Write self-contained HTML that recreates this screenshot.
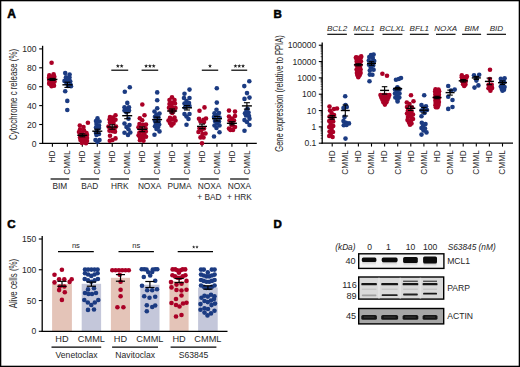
<!DOCTYPE html>
<html><head><meta charset="utf-8"><style>
html,body{margin:0;padding:0;background:#fff;}
body{width:520px;height:367px;overflow:hidden;}
svg{display:block;}
text{font-family:"Liberation Sans", sans-serif;fill:#262626;}
</style></head><body>
<svg width="520" height="367" viewBox="0 0 520 367">
<rect x="0" y="0" width="520" height="367" fill="#fff"/>
<text x="7.20" y="17.60" font-size="12.00" text-anchor="start" font-weight="bold" font-style="normal" style="fill:#000;stroke:#000;stroke-width:0.55">A</text>
<line x1="42.60" y1="45.80" x2="42.60" y2="144.00" stroke="#000" stroke-width="1.30"/>
<line x1="42.00" y1="143.40" x2="256.80" y2="143.40" stroke="#000" stroke-width="1.30"/>
<line x1="39.20" y1="143.40" x2="42.60" y2="143.40" stroke="#000" stroke-width="1.10"/>
<text x="36.60" y="146.50" font-size="8.60" text-anchor="end" font-weight="normal" font-style="normal" >0</text>
<line x1="39.20" y1="124.50" x2="42.60" y2="124.50" stroke="#000" stroke-width="1.10"/>
<text x="36.60" y="127.60" font-size="8.60" text-anchor="end" font-weight="normal" font-style="normal" >20</text>
<line x1="39.20" y1="105.60" x2="42.60" y2="105.60" stroke="#000" stroke-width="1.10"/>
<text x="36.60" y="108.70" font-size="8.60" text-anchor="end" font-weight="normal" font-style="normal" >40</text>
<line x1="39.20" y1="86.70" x2="42.60" y2="86.70" stroke="#000" stroke-width="1.10"/>
<text x="36.60" y="89.80" font-size="8.60" text-anchor="end" font-weight="normal" font-style="normal" >60</text>
<line x1="39.20" y1="67.80" x2="42.60" y2="67.80" stroke="#000" stroke-width="1.10"/>
<text x="36.60" y="70.90" font-size="8.60" text-anchor="end" font-weight="normal" font-style="normal" >80</text>
<line x1="39.20" y1="48.90" x2="42.60" y2="48.90" stroke="#000" stroke-width="1.10"/>
<text x="36.60" y="52.00" font-size="8.60" text-anchor="end" font-weight="normal" font-style="normal" >100</text>
<text x="17.30" y="94.50" font-size="10.10" text-anchor="middle" font-weight="normal" font-style="normal" transform="rotate(-90 17.30 94.50)" textLength="91.00" lengthAdjust="spacingAndGlyphs" >Cytochrome c release (%)</text>
<line x1="52.40" y1="143.40" x2="52.40" y2="146.80" stroke="#000" stroke-width="1.10"/>
<text x="55.30" y="150.40" font-size="8.30" text-anchor="end" font-weight="normal" font-style="normal" transform="rotate(-90 55.30 150.40)" >HD</text>
<line x1="67.36" y1="143.40" x2="67.36" y2="146.80" stroke="#000" stroke-width="1.10"/>
<text x="70.26" y="150.40" font-size="8.30" text-anchor="end" font-weight="normal" font-style="normal" transform="rotate(-90 70.26 150.40)" >CMML</text>
<line x1="82.32" y1="143.40" x2="82.32" y2="146.80" stroke="#000" stroke-width="1.10"/>
<text x="85.22" y="150.40" font-size="8.30" text-anchor="end" font-weight="normal" font-style="normal" transform="rotate(-90 85.22 150.40)" >HD</text>
<line x1="97.28" y1="143.40" x2="97.28" y2="146.80" stroke="#000" stroke-width="1.10"/>
<text x="100.18" y="150.40" font-size="8.30" text-anchor="end" font-weight="normal" font-style="normal" transform="rotate(-90 100.18 150.40)" >CMML</text>
<line x1="112.24" y1="143.40" x2="112.24" y2="146.80" stroke="#000" stroke-width="1.10"/>
<text x="115.14" y="150.40" font-size="8.30" text-anchor="end" font-weight="normal" font-style="normal" transform="rotate(-90 115.14 150.40)" >HD</text>
<line x1="127.20" y1="143.40" x2="127.20" y2="146.80" stroke="#000" stroke-width="1.10"/>
<text x="130.10" y="150.40" font-size="8.30" text-anchor="end" font-weight="normal" font-style="normal" transform="rotate(-90 130.10 150.40)" >CMML</text>
<line x1="142.16" y1="143.40" x2="142.16" y2="146.80" stroke="#000" stroke-width="1.10"/>
<text x="145.06" y="150.40" font-size="8.30" text-anchor="end" font-weight="normal" font-style="normal" transform="rotate(-90 145.06 150.40)" >HD</text>
<line x1="157.12" y1="143.40" x2="157.12" y2="146.80" stroke="#000" stroke-width="1.10"/>
<text x="160.02" y="150.40" font-size="8.30" text-anchor="end" font-weight="normal" font-style="normal" transform="rotate(-90 160.02 150.40)" >CMML</text>
<line x1="172.08" y1="143.40" x2="172.08" y2="146.80" stroke="#000" stroke-width="1.10"/>
<text x="174.98" y="150.40" font-size="8.30" text-anchor="end" font-weight="normal" font-style="normal" transform="rotate(-90 174.98 150.40)" >HD</text>
<line x1="187.04" y1="143.40" x2="187.04" y2="146.80" stroke="#000" stroke-width="1.10"/>
<text x="189.94" y="150.40" font-size="8.30" text-anchor="end" font-weight="normal" font-style="normal" transform="rotate(-90 189.94 150.40)" >CMML</text>
<line x1="202.00" y1="143.40" x2="202.00" y2="146.80" stroke="#000" stroke-width="1.10"/>
<text x="204.90" y="150.40" font-size="8.30" text-anchor="end" font-weight="normal" font-style="normal" transform="rotate(-90 204.90 150.40)" >HD</text>
<line x1="216.96" y1="143.40" x2="216.96" y2="146.80" stroke="#000" stroke-width="1.10"/>
<text x="219.86" y="150.40" font-size="8.30" text-anchor="end" font-weight="normal" font-style="normal" transform="rotate(-90 219.86 150.40)" >CMML</text>
<line x1="231.92" y1="143.40" x2="231.92" y2="146.80" stroke="#000" stroke-width="1.10"/>
<text x="234.82" y="150.40" font-size="8.30" text-anchor="end" font-weight="normal" font-style="normal" transform="rotate(-90 234.82 150.40)" >HD</text>
<line x1="246.88" y1="143.40" x2="246.88" y2="146.80" stroke="#000" stroke-width="1.10"/>
<text x="249.78" y="150.40" font-size="8.30" text-anchor="end" font-weight="normal" font-style="normal" transform="rotate(-90 249.78 150.40)" >CMML</text>
<line x1="50.58" y1="179.00" x2="69.18" y2="179.00" stroke="#000" stroke-width="1.20"/>
<text x="59.88" y="189.20" font-size="8.30" text-anchor="middle" font-weight="normal" font-style="normal" >BIM</text>
<line x1="80.50" y1="179.00" x2="99.10" y2="179.00" stroke="#000" stroke-width="1.20"/>
<text x="89.80" y="189.20" font-size="8.30" text-anchor="middle" font-weight="normal" font-style="normal" >BAD</text>
<line x1="110.42" y1="179.00" x2="129.02" y2="179.00" stroke="#000" stroke-width="1.20"/>
<text x="119.72" y="189.20" font-size="8.30" text-anchor="middle" font-weight="normal" font-style="normal" >HRK</text>
<line x1="140.34" y1="179.00" x2="158.94" y2="179.00" stroke="#000" stroke-width="1.20"/>
<text x="149.64" y="189.20" font-size="8.30" text-anchor="middle" font-weight="normal" font-style="normal" >NOXA</text>
<line x1="170.26" y1="179.00" x2="188.86" y2="179.00" stroke="#000" stroke-width="1.20"/>
<text x="179.56" y="189.20" font-size="8.30" text-anchor="middle" font-weight="normal" font-style="normal" >PUMA</text>
<line x1="200.18" y1="179.00" x2="218.78" y2="179.00" stroke="#000" stroke-width="1.20"/>
<text x="209.48" y="189.20" font-size="8.30" text-anchor="middle" font-weight="normal" font-style="normal" >NOXA</text>
<line x1="230.10" y1="179.00" x2="248.70" y2="179.00" stroke="#000" stroke-width="1.20"/>
<text x="239.40" y="189.20" font-size="8.30" text-anchor="middle" font-weight="normal" font-style="normal" >NOXA</text>
<text x="209.48" y="199.50" font-size="8.30" text-anchor="middle" font-weight="normal" font-style="normal" >+ BAD</text>
<text x="239.40" y="199.50" font-size="8.30" text-anchor="middle" font-weight="normal" font-style="normal" >+ HRK</text>
<line x1="111.30" y1="70.20" x2="128.20" y2="70.20" stroke="#000" stroke-width="1.20"/>
<polygon points="117.85,63.90 118.38,65.27 119.85,65.35 118.71,66.28 119.08,67.70 117.85,66.90 116.62,67.70 116.99,66.28 115.85,65.35 117.32,65.27" fill="#222"/>
<polygon points="121.65,63.90 122.18,65.27 123.65,65.35 122.51,66.28 122.88,67.70 121.65,66.90 120.42,67.70 120.79,66.28 119.65,65.35 121.12,65.27" fill="#222"/>
<line x1="141.60" y1="70.20" x2="158.20" y2="70.20" stroke="#000" stroke-width="1.20"/>
<polygon points="146.10,63.90 146.63,65.27 148.10,65.35 146.96,66.28 147.33,67.70 146.10,66.90 144.87,67.70 145.24,66.28 144.10,65.35 145.57,65.27" fill="#222"/>
<polygon points="149.90,63.90 150.43,65.27 151.90,65.35 150.76,66.28 151.13,67.70 149.90,66.90 148.67,67.70 149.04,66.28 147.90,65.35 149.37,65.27" fill="#222"/>
<polygon points="153.70,63.90 154.23,65.27 155.70,65.35 154.56,66.28 154.93,67.70 153.70,66.90 152.47,67.70 152.84,66.28 151.70,65.35 153.17,65.27" fill="#222"/>
<line x1="201.80" y1="70.20" x2="218.20" y2="70.20" stroke="#000" stroke-width="1.20"/>
<polygon points="210.00,63.90 210.53,65.27 212.00,65.35 210.86,66.28 211.23,67.70 210.00,66.90 208.77,67.70 209.14,66.28 208.00,65.35 209.47,65.27" fill="#222"/>
<line x1="231.30" y1="70.20" x2="247.20" y2="70.20" stroke="#000" stroke-width="1.20"/>
<polygon points="235.45,63.90 235.98,65.27 237.45,65.35 236.31,66.28 236.68,67.70 235.45,66.90 234.22,67.70 234.59,66.28 233.45,65.35 234.92,65.27" fill="#222"/>
<polygon points="239.25,63.90 239.78,65.27 241.25,65.35 240.11,66.28 240.48,67.70 239.25,66.90 238.02,67.70 238.39,66.28 237.25,65.35 238.72,65.27" fill="#222"/>
<polygon points="243.05,63.90 243.58,65.27 245.05,65.35 243.91,66.28 244.28,67.70 243.05,66.90 241.82,67.70 242.19,66.28 241.05,65.35 242.52,65.27" fill="#222"/>
<g fill="#aa0026"><circle cx="51.6" cy="62.8" r="2.30"/><circle cx="49.3" cy="75.2" r="2.30"/><circle cx="53.6" cy="74.2" r="2.30"/><circle cx="54.3" cy="76.8" r="2.30"/><circle cx="49.0" cy="77.8" r="2.30"/><circle cx="51.4" cy="77.0" r="2.30"/><circle cx="54.0" cy="79.4" r="2.30"/><circle cx="49.2" cy="80.0" r="2.30"/><circle cx="51.5" cy="80.5" r="2.30"/><circle cx="49.5" cy="82.5" r="2.30"/><circle cx="53.5" cy="82.0" r="2.30"/><circle cx="54.5" cy="81.5" r="2.30"/><circle cx="50.5" cy="84.3" r="2.30"/><circle cx="53.3" cy="84.6" r="2.30"/><circle cx="49.2" cy="83.8" r="2.30"/><circle cx="51.6" cy="86.2" r="2.30"/><circle cx="54.0" cy="85.8" r="2.30"/></g>
<g fill="#1b3b82"><circle cx="65.2" cy="73.1" r="2.30"/><circle cx="69.6" cy="74.5" r="2.30"/><circle cx="66.0" cy="77.2" r="2.30"/><circle cx="69.5" cy="77.5" r="2.30"/><circle cx="66.0" cy="80.0" r="2.30"/><circle cx="69.0" cy="80.5" r="2.30"/><circle cx="64.5" cy="80.9" r="2.30"/><circle cx="70.2" cy="81.2" r="2.30"/><circle cx="66.5" cy="83.0" r="2.30"/><circle cx="70.5" cy="84.5" r="2.30"/><circle cx="68.0" cy="86.0" r="2.30"/><circle cx="71.0" cy="86.2" r="2.30"/><circle cx="65.2" cy="91.2" r="2.30"/><circle cx="67.3" cy="100.9" r="2.30"/><circle cx="67.3" cy="110.0" r="2.30"/></g>
<g fill="#aa0026"><circle cx="87.9" cy="122.8" r="2.30"/><circle cx="79.8" cy="125.6" r="2.30"/><circle cx="83.5" cy="127.0" r="2.30"/><circle cx="80.0" cy="129.5" r="2.30"/><circle cx="84.0" cy="130.5" r="2.30"/><circle cx="79.0" cy="132.0" r="2.30"/><circle cx="82.0" cy="133.0" r="2.30"/><circle cx="86.5" cy="133.0" r="2.30"/><circle cx="80.0" cy="135.0" r="2.30"/><circle cx="83.0" cy="135.5" r="2.30"/><circle cx="87.0" cy="135.0" r="2.30"/><circle cx="80.0" cy="137.5" r="2.30"/><circle cx="84.0" cy="138.0" r="2.30"/><circle cx="87.0" cy="138.0" r="2.30"/><circle cx="80.5" cy="140.0" r="2.30"/><circle cx="84.0" cy="140.5" r="2.30"/><circle cx="87.0" cy="141.0" r="2.30"/><circle cx="82.0" cy="143.0" r="2.30"/><circle cx="86.0" cy="143.2" r="2.30"/></g>
<g fill="#1b3b82"><circle cx="97.5" cy="118.4" r="2.30"/><circle cx="96.0" cy="121.0" r="2.30"/><circle cx="99.5" cy="121.5" r="2.30"/><circle cx="96.5" cy="124.0" r="2.30"/><circle cx="99.0" cy="125.5" r="2.30"/><circle cx="96.0" cy="127.5" r="2.30"/><circle cx="99.0" cy="128.0" r="2.30"/><circle cx="97.0" cy="130.0" r="2.30"/><circle cx="96.0" cy="133.0" r="2.30"/><circle cx="99.0" cy="134.0" r="2.30"/><circle cx="96.5" cy="135.0" r="2.30"/><circle cx="95.5" cy="140.0" r="2.30"/><circle cx="99.5" cy="140.0" r="2.30"/><circle cx="97.5" cy="142.0" r="2.30"/></g>
<g fill="#aa0026"><circle cx="115.5" cy="115.2" r="2.30"/><circle cx="110.0" cy="117.1" r="2.30"/><circle cx="113.0" cy="117.5" r="2.30"/><circle cx="109.5" cy="119.5" r="2.30"/><circle cx="112.5" cy="120.2" r="2.30"/><circle cx="115.5" cy="119.8" r="2.30"/><circle cx="110.0" cy="122.5" r="2.30"/><circle cx="113.5" cy="123.0" r="2.30"/><circle cx="108.5" cy="126.5" r="2.30"/><circle cx="116.0" cy="126.5" r="2.30"/><circle cx="110.0" cy="128.5" r="2.30"/><circle cx="114.5" cy="129.0" r="2.30"/><circle cx="109.5" cy="130.8" r="2.30"/><circle cx="112.5" cy="131.3" r="2.30"/><circle cx="115.0" cy="131.8" r="2.30"/><circle cx="110.0" cy="135.7" r="2.30"/><circle cx="115.5" cy="138.4" r="2.30"/><circle cx="112.5" cy="140.0" r="2.30"/><circle cx="109.8" cy="140.7" r="2.30"/></g>
<g fill="#1b3b82"><circle cx="124.8" cy="91.7" r="2.30"/><circle cx="129.8" cy="87.2" r="2.30"/><circle cx="127.3" cy="102.9" r="2.30"/><circle cx="124.5" cy="107.3" r="2.30"/><circle cx="129.0" cy="107.3" r="2.30"/><circle cx="126.6" cy="108.8" r="2.30"/><circle cx="124.5" cy="110.6" r="2.30"/><circle cx="129.0" cy="110.6" r="2.30"/><circle cx="126.5" cy="112.2" r="2.30"/><circle cx="128.5" cy="118.7" r="2.30"/><circle cx="124.5" cy="123.5" r="2.30"/><circle cx="129.5" cy="125.0" r="2.30"/><circle cx="126.5" cy="127.0" r="2.30"/><circle cx="128.5" cy="129.2" r="2.30"/><circle cx="124.5" cy="132.7" r="2.30"/><circle cx="128.0" cy="134.9" r="2.30"/><circle cx="130.3" cy="132.5" r="2.30"/></g>
<g fill="#aa0026"><circle cx="142.3" cy="104.5" r="2.30"/><circle cx="144.5" cy="115.2" r="2.30"/><circle cx="139.8" cy="118.2" r="2.30"/><circle cx="142.2" cy="120.3" r="2.30"/><circle cx="139.5" cy="124.1" r="2.30"/><circle cx="143.0" cy="124.7" r="2.30"/><circle cx="146.0" cy="124.5" r="2.30"/><circle cx="138.5" cy="127.2" r="2.30"/><circle cx="141.0" cy="128.6" r="2.30"/><circle cx="145.5" cy="128.2" r="2.30"/><circle cx="139.5" cy="132.5" r="2.30"/><circle cx="143.0" cy="132.0" r="2.30"/><circle cx="145.8" cy="131.5" r="2.30"/><circle cx="138.6" cy="135.2" r="2.30"/><circle cx="141.2" cy="135.6" r="2.30"/><circle cx="144.5" cy="135.0" r="2.30"/><circle cx="140.0" cy="137.6" r="2.30"/><circle cx="143.0" cy="138.0" r="2.30"/><circle cx="146.0" cy="136.8" r="2.30"/><circle cx="140.0" cy="140.2" r="2.30"/><circle cx="143.5" cy="140.8" r="2.30"/></g>
<g fill="#1b3b82"><circle cx="157.2" cy="92.4" r="2.30"/><circle cx="157.2" cy="100.3" r="2.30"/><circle cx="157.2" cy="108.2" r="2.30"/><circle cx="154.5" cy="111.5" r="2.30"/><circle cx="159.5" cy="113.6" r="2.30"/><circle cx="156.5" cy="114.5" r="2.30"/><circle cx="155.0" cy="116.8" r="2.30"/><circle cx="158.5" cy="117.5" r="2.30"/><circle cx="155.0" cy="121.0" r="2.30"/><circle cx="158.6" cy="121.6" r="2.30"/><circle cx="156.0" cy="123.6" r="2.30"/><circle cx="159.2" cy="124.6" r="2.30"/><circle cx="155.0" cy="126.2" r="2.30"/><circle cx="158.0" cy="127.2" r="2.30"/><circle cx="156.5" cy="129.0" r="2.30"/><circle cx="159.5" cy="131.4" r="2.30"/><circle cx="154.5" cy="134.7" r="2.30"/></g>
<g fill="#aa0026"><circle cx="172.0" cy="97.2" r="2.30"/><circle cx="169.5" cy="100.0" r="2.30"/><circle cx="174.5" cy="100.0" r="2.30"/><circle cx="169.5" cy="104.0" r="2.30"/><circle cx="172.0" cy="103.0" r="2.30"/><circle cx="175.0" cy="103.5" r="2.30"/><circle cx="169.0" cy="107.8" r="2.30"/><circle cx="172.0" cy="107.0" r="2.30"/><circle cx="175.5" cy="108.0" r="2.30"/><circle cx="170.5" cy="110.5" r="2.30"/><circle cx="174.0" cy="110.5" r="2.30"/><circle cx="172.2" cy="113.0" r="2.30"/><circle cx="170.0" cy="117.9" r="2.30"/><circle cx="174.5" cy="117.5" r="2.30"/><circle cx="168.5" cy="120.5" r="2.30"/><circle cx="172.0" cy="119.5" r="2.30"/><circle cx="175.5" cy="120.5" r="2.30"/><circle cx="170.0" cy="123.0" r="2.30"/><circle cx="173.5" cy="123.5" r="2.30"/><circle cx="171.5" cy="125.5" r="2.30"/></g>
<g fill="#1b3b82"><circle cx="189.5" cy="89.6" r="2.30"/><circle cx="184.5" cy="93.8" r="2.30"/><circle cx="184.0" cy="98.0" r="2.30"/><circle cx="189.5" cy="98.0" r="2.30"/><circle cx="186.5" cy="101.0" r="2.30"/><circle cx="184.5" cy="103.5" r="2.30"/><circle cx="189.0" cy="103.0" r="2.30"/><circle cx="186.0" cy="104.5" r="2.30"/><circle cx="189.5" cy="106.0" r="2.30"/><circle cx="185.0" cy="107.5" r="2.30"/><circle cx="184.5" cy="114.1" r="2.30"/><circle cx="189.5" cy="114.0" r="2.30"/><circle cx="186.5" cy="116.5" r="2.30"/><circle cx="188.5" cy="119.0" r="2.30"/><circle cx="186.5" cy="124.8" r="2.30"/></g>
<g fill="#aa0026"><circle cx="204.5" cy="107.4" r="2.30"/><circle cx="199.5" cy="110.8" r="2.30"/><circle cx="199.0" cy="118.7" r="2.30"/><circle cx="203.5" cy="119.9" r="2.30"/><circle cx="206.0" cy="118.5" r="2.30"/><circle cx="200.5" cy="121.5" r="2.30"/><circle cx="204.0" cy="122.0" r="2.30"/><circle cx="199.5" cy="128.4" r="2.30"/><circle cx="204.0" cy="128.5" r="2.30"/><circle cx="201.5" cy="130.0" r="2.30"/><circle cx="198.5" cy="132.0" r="2.30"/><circle cx="202.5" cy="134.0" r="2.30"/><circle cx="205.5" cy="133.5" r="2.30"/><circle cx="200.5" cy="137.4" r="2.30"/><circle cx="203.5" cy="137.5" r="2.30"/><circle cx="202.0" cy="143.3" r="2.30"/></g>
<g fill="#1b3b82"><circle cx="216.8" cy="88.2" r="2.30"/><circle cx="216.8" cy="102.6" r="2.30"/><circle cx="216.5" cy="109.8" r="2.30"/><circle cx="214.5" cy="113.2" r="2.30"/><circle cx="219.0" cy="113.0" r="2.30"/><circle cx="216.5" cy="115.0" r="2.30"/><circle cx="214.0" cy="117.0" r="2.30"/><circle cx="219.5" cy="117.5" r="2.30"/><circle cx="215.0" cy="121.0" r="2.30"/><circle cx="219.0" cy="121.5" r="2.30"/><circle cx="217.0" cy="123.5" r="2.30"/><circle cx="214.5" cy="125.5" r="2.30"/><circle cx="219.5" cy="125.5" r="2.30"/><circle cx="216.5" cy="128.0" r="2.30"/><circle cx="219.5" cy="132.3" r="2.30"/><circle cx="214.0" cy="136.5" r="2.30"/></g>
<g fill="#aa0026"><circle cx="229.0" cy="110.6" r="2.30"/><circle cx="235.0" cy="111.6" r="2.30"/><circle cx="229.0" cy="116.5" r="2.30"/><circle cx="235.0" cy="116.0" r="2.30"/><circle cx="232.0" cy="118.5" r="2.30"/><circle cx="229.5" cy="120.5" r="2.30"/><circle cx="234.0" cy="120.5" r="2.30"/><circle cx="231.5" cy="122.5" r="2.30"/><circle cx="229.0" cy="128.6" r="2.30"/><circle cx="235.0" cy="127.0" r="2.30"/><circle cx="233.0" cy="129.9" r="2.30"/><circle cx="230.5" cy="130.0" r="2.30"/><circle cx="232.0" cy="125.5" r="2.30"/></g>
<g fill="#1b3b82"><circle cx="249.3" cy="81.2" r="2.30"/><circle cx="244.3" cy="86.1" r="2.30"/><circle cx="247.0" cy="93.1" r="2.30"/><circle cx="244.5" cy="98.9" r="2.30"/><circle cx="249.5" cy="97.6" r="2.30"/><circle cx="247.5" cy="108.7" r="2.30"/><circle cx="245.0" cy="113.2" r="2.30"/><circle cx="248.5" cy="112.5" r="2.30"/><circle cx="246.0" cy="115.5" r="2.30"/><circle cx="249.0" cy="116.0" r="2.30"/><circle cx="244.5" cy="120.1" r="2.30"/><circle cx="249.5" cy="118.8" r="2.30"/><circle cx="247.0" cy="122.0" r="2.30"/><circle cx="249.5" cy="125.0" r="2.30"/><circle cx="244.5" cy="130.7" r="2.30"/><circle cx="246.5" cy="110.5" r="2.30"/></g>
<g stroke="#000" stroke-width="1.40" fill="none"><line x1="47.4" y1="79.4" x2="57.4" y2="79.4"/><line x1="52.4" y1="78.4" x2="52.4" y2="80.4" stroke-width="1.1"/><line x1="49.4" y1="78.4" x2="55.4" y2="78.4" stroke-width="1.1"/><line x1="49.4" y1="80.4" x2="55.4" y2="80.4" stroke-width="1.1"/></g>
<g stroke="#000" stroke-width="1.40" fill="none"><line x1="62.4" y1="84.8" x2="72.4" y2="84.8"/><line x1="67.4" y1="82.2" x2="67.4" y2="87.4" stroke-width="1.1"/><line x1="64.4" y1="82.2" x2="70.4" y2="82.2" stroke-width="1.1"/><line x1="64.4" y1="87.4" x2="70.4" y2="87.4" stroke-width="1.1"/></g>
<g stroke="#000" stroke-width="1.40" fill="none"><line x1="77.3" y1="135.3" x2="87.3" y2="135.3"/><line x1="82.3" y1="133.8" x2="82.3" y2="136.8" stroke-width="1.1"/><line x1="79.3" y1="133.8" x2="85.3" y2="133.8" stroke-width="1.1"/><line x1="79.3" y1="136.8" x2="85.3" y2="136.8" stroke-width="1.1"/></g>
<g stroke="#000" stroke-width="1.40" fill="none"><line x1="92.3" y1="131.2" x2="102.3" y2="131.2"/><line x1="97.3" y1="129.2" x2="97.3" y2="133.2" stroke-width="1.1"/><line x1="94.3" y1="129.2" x2="100.3" y2="129.2" stroke-width="1.1"/><line x1="94.3" y1="133.2" x2="100.3" y2="133.2" stroke-width="1.1"/></g>
<g stroke="#000" stroke-width="1.40" fill="none"><line x1="107.2" y1="127.0" x2="117.2" y2="127.0"/><line x1="112.2" y1="124.8" x2="112.2" y2="129.2" stroke-width="1.1"/><line x1="109.2" y1="124.8" x2="115.2" y2="124.8" stroke-width="1.1"/><line x1="109.2" y1="129.2" x2="115.2" y2="129.2" stroke-width="1.1"/></g>
<g stroke="#000" stroke-width="1.40" fill="none"><line x1="122.2" y1="115.7" x2="132.2" y2="115.7"/><line x1="127.2" y1="112.7" x2="127.2" y2="118.7" stroke-width="1.1"/><line x1="124.2" y1="112.7" x2="130.2" y2="112.7" stroke-width="1.1"/><line x1="124.2" y1="118.7" x2="130.2" y2="118.7" stroke-width="1.1"/></g>
<g stroke="#000" stroke-width="1.40" fill="none"><line x1="137.2" y1="129.3" x2="147.2" y2="129.3"/><line x1="142.2" y1="126.9" x2="142.2" y2="131.7" stroke-width="1.1"/><line x1="139.2" y1="126.9" x2="145.2" y2="126.9" stroke-width="1.1"/><line x1="139.2" y1="131.7" x2="145.2" y2="131.7" stroke-width="1.1"/></g>
<g stroke="#000" stroke-width="1.40" fill="none"><line x1="152.1" y1="119.6" x2="162.1" y2="119.6"/><line x1="157.1" y1="117.1" x2="157.1" y2="122.1" stroke-width="1.1"/><line x1="154.1" y1="117.1" x2="160.1" y2="117.1" stroke-width="1.1"/><line x1="154.1" y1="122.1" x2="160.1" y2="122.1" stroke-width="1.1"/></g>
<g stroke="#000" stroke-width="1.40" fill="none"><line x1="167.1" y1="111.0" x2="177.1" y2="111.0"/><line x1="172.1" y1="109.0" x2="172.1" y2="113.0" stroke-width="1.1"/><line x1="169.1" y1="109.0" x2="175.1" y2="109.0" stroke-width="1.1"/><line x1="169.1" y1="113.0" x2="175.1" y2="113.0" stroke-width="1.1"/></g>
<g stroke="#000" stroke-width="1.40" fill="none"><line x1="182.0" y1="107.8" x2="192.0" y2="107.8"/><line x1="187.0" y1="105.6" x2="187.0" y2="110.0" stroke-width="1.1"/><line x1="184.0" y1="105.6" x2="190.0" y2="105.6" stroke-width="1.1"/><line x1="184.0" y1="110.0" x2="190.0" y2="110.0" stroke-width="1.1"/></g>
<g stroke="#000" stroke-width="1.40" fill="none"><line x1="197.0" y1="126.4" x2="207.0" y2="126.4"/><line x1="202.0" y1="124.1" x2="202.0" y2="128.7" stroke-width="1.1"/><line x1="199.0" y1="124.1" x2="205.0" y2="124.1" stroke-width="1.1"/><line x1="199.0" y1="128.7" x2="205.0" y2="128.7" stroke-width="1.1"/></g>
<g stroke="#000" stroke-width="1.40" fill="none"><line x1="212.0" y1="118.7" x2="222.0" y2="118.7"/><line x1="217.0" y1="116.4" x2="217.0" y2="121.0" stroke-width="1.1"/><line x1="214.0" y1="116.4" x2="220.0" y2="116.4" stroke-width="1.1"/><line x1="214.0" y1="121.0" x2="220.0" y2="121.0" stroke-width="1.1"/></g>
<g stroke="#000" stroke-width="1.40" fill="none"><line x1="226.9" y1="123.3" x2="236.9" y2="123.3"/><line x1="231.9" y1="121.7" x2="231.9" y2="124.9" stroke-width="1.1"/><line x1="228.9" y1="121.7" x2="234.9" y2="121.7" stroke-width="1.1"/><line x1="228.9" y1="124.9" x2="234.9" y2="124.9" stroke-width="1.1"/></g>
<g stroke="#000" stroke-width="1.40" fill="none"><line x1="241.9" y1="105.9" x2="251.9" y2="105.9"/><line x1="246.9" y1="102.7" x2="246.9" y2="109.1" stroke-width="1.1"/><line x1="243.9" y1="102.7" x2="249.9" y2="102.7" stroke-width="1.1"/><line x1="243.9" y1="109.1" x2="249.9" y2="109.1" stroke-width="1.1"/></g>
<text x="273.60" y="18.20" font-size="11.50" text-anchor="start" font-weight="bold" font-style="normal" style="fill:#000;stroke:#000;stroke-width:0.55">B</text>
<line x1="322.20" y1="42.50" x2="322.20" y2="143.80" stroke="#000" stroke-width="1.30"/>
<line x1="321.60" y1="143.20" x2="513.00" y2="143.20" stroke="#000" stroke-width="1.30"/>
<line x1="318.80" y1="143.20" x2="322.20" y2="143.20" stroke="#000" stroke-width="1.10"/>
<text x="316.40" y="146.30" font-size="8.60" text-anchor="end" font-weight="normal" font-style="normal" >0.1</text>
<line x1="320.60" y1="138.28" x2="322.20" y2="138.28" stroke="#000" stroke-width="0.55"/>
<line x1="320.60" y1="135.41" x2="322.20" y2="135.41" stroke="#000" stroke-width="0.55"/>
<line x1="320.60" y1="133.37" x2="322.20" y2="133.37" stroke="#000" stroke-width="0.55"/>
<line x1="320.60" y1="131.79" x2="322.20" y2="131.79" stroke="#000" stroke-width="0.55"/>
<line x1="320.60" y1="130.49" x2="322.20" y2="130.49" stroke="#000" stroke-width="0.55"/>
<line x1="320.60" y1="129.40" x2="322.20" y2="129.40" stroke="#000" stroke-width="0.55"/>
<line x1="320.60" y1="128.45" x2="322.20" y2="128.45" stroke="#000" stroke-width="0.55"/>
<line x1="320.60" y1="127.62" x2="322.20" y2="127.62" stroke="#000" stroke-width="0.55"/>
<line x1="318.80" y1="126.87" x2="322.20" y2="126.87" stroke="#000" stroke-width="1.10"/>
<text x="316.40" y="129.97" font-size="8.60" text-anchor="end" font-weight="normal" font-style="normal" >1</text>
<line x1="320.60" y1="121.95" x2="322.20" y2="121.95" stroke="#000" stroke-width="0.55"/>
<line x1="320.60" y1="119.08" x2="322.20" y2="119.08" stroke="#000" stroke-width="0.55"/>
<line x1="320.60" y1="117.04" x2="322.20" y2="117.04" stroke="#000" stroke-width="0.55"/>
<line x1="320.60" y1="115.46" x2="322.20" y2="115.46" stroke="#000" stroke-width="0.55"/>
<line x1="320.60" y1="114.16" x2="322.20" y2="114.16" stroke="#000" stroke-width="0.55"/>
<line x1="320.60" y1="113.07" x2="322.20" y2="113.07" stroke="#000" stroke-width="0.55"/>
<line x1="320.60" y1="112.12" x2="322.20" y2="112.12" stroke="#000" stroke-width="0.55"/>
<line x1="320.60" y1="111.29" x2="322.20" y2="111.29" stroke="#000" stroke-width="0.55"/>
<line x1="318.80" y1="110.54" x2="322.20" y2="110.54" stroke="#000" stroke-width="1.10"/>
<text x="316.40" y="113.64" font-size="8.60" text-anchor="end" font-weight="normal" font-style="normal" >10</text>
<line x1="320.60" y1="105.62" x2="322.20" y2="105.62" stroke="#000" stroke-width="0.55"/>
<line x1="320.60" y1="102.75" x2="322.20" y2="102.75" stroke="#000" stroke-width="0.55"/>
<line x1="320.60" y1="100.71" x2="322.20" y2="100.71" stroke="#000" stroke-width="0.55"/>
<line x1="320.60" y1="99.13" x2="322.20" y2="99.13" stroke="#000" stroke-width="0.55"/>
<line x1="320.60" y1="97.83" x2="322.20" y2="97.83" stroke="#000" stroke-width="0.55"/>
<line x1="320.60" y1="96.74" x2="322.20" y2="96.74" stroke="#000" stroke-width="0.55"/>
<line x1="320.60" y1="95.79" x2="322.20" y2="95.79" stroke="#000" stroke-width="0.55"/>
<line x1="320.60" y1="94.96" x2="322.20" y2="94.96" stroke="#000" stroke-width="0.55"/>
<line x1="318.80" y1="94.21" x2="322.20" y2="94.21" stroke="#000" stroke-width="1.10"/>
<text x="316.40" y="97.31" font-size="8.60" text-anchor="end" font-weight="normal" font-style="normal" >100</text>
<line x1="320.60" y1="89.29" x2="322.20" y2="89.29" stroke="#000" stroke-width="0.55"/>
<line x1="320.60" y1="86.42" x2="322.20" y2="86.42" stroke="#000" stroke-width="0.55"/>
<line x1="320.60" y1="84.38" x2="322.20" y2="84.38" stroke="#000" stroke-width="0.55"/>
<line x1="320.60" y1="82.80" x2="322.20" y2="82.80" stroke="#000" stroke-width="0.55"/>
<line x1="320.60" y1="81.50" x2="322.20" y2="81.50" stroke="#000" stroke-width="0.55"/>
<line x1="320.60" y1="80.41" x2="322.20" y2="80.41" stroke="#000" stroke-width="0.55"/>
<line x1="320.60" y1="79.46" x2="322.20" y2="79.46" stroke="#000" stroke-width="0.55"/>
<line x1="320.60" y1="78.63" x2="322.20" y2="78.63" stroke="#000" stroke-width="0.55"/>
<line x1="318.80" y1="77.88" x2="322.20" y2="77.88" stroke="#000" stroke-width="1.10"/>
<text x="316.40" y="80.98" font-size="8.60" text-anchor="end" font-weight="normal" font-style="normal" >1000</text>
<line x1="320.60" y1="72.96" x2="322.20" y2="72.96" stroke="#000" stroke-width="0.55"/>
<line x1="320.60" y1="70.09" x2="322.20" y2="70.09" stroke="#000" stroke-width="0.55"/>
<line x1="320.60" y1="68.05" x2="322.20" y2="68.05" stroke="#000" stroke-width="0.55"/>
<line x1="320.60" y1="66.47" x2="322.20" y2="66.47" stroke="#000" stroke-width="0.55"/>
<line x1="320.60" y1="65.17" x2="322.20" y2="65.17" stroke="#000" stroke-width="0.55"/>
<line x1="320.60" y1="64.08" x2="322.20" y2="64.08" stroke="#000" stroke-width="0.55"/>
<line x1="320.60" y1="63.13" x2="322.20" y2="63.13" stroke="#000" stroke-width="0.55"/>
<line x1="320.60" y1="62.30" x2="322.20" y2="62.30" stroke="#000" stroke-width="0.55"/>
<line x1="318.80" y1="61.55" x2="322.20" y2="61.55" stroke="#000" stroke-width="1.10"/>
<text x="316.40" y="64.65" font-size="8.60" text-anchor="end" font-weight="normal" font-style="normal" >10000</text>
<line x1="320.60" y1="56.63" x2="322.20" y2="56.63" stroke="#000" stroke-width="0.55"/>
<line x1="320.60" y1="53.76" x2="322.20" y2="53.76" stroke="#000" stroke-width="0.55"/>
<line x1="320.60" y1="51.72" x2="322.20" y2="51.72" stroke="#000" stroke-width="0.55"/>
<line x1="320.60" y1="50.14" x2="322.20" y2="50.14" stroke="#000" stroke-width="0.55"/>
<line x1="320.60" y1="48.84" x2="322.20" y2="48.84" stroke="#000" stroke-width="0.55"/>
<line x1="320.60" y1="47.75" x2="322.20" y2="47.75" stroke="#000" stroke-width="0.55"/>
<line x1="320.60" y1="46.80" x2="322.20" y2="46.80" stroke="#000" stroke-width="0.55"/>
<line x1="320.60" y1="45.97" x2="322.20" y2="45.97" stroke="#000" stroke-width="0.55"/>
<line x1="318.80" y1="45.22" x2="322.20" y2="45.22" stroke="#000" stroke-width="1.10"/>
<text x="316.40" y="48.32" font-size="8.60" text-anchor="end" font-weight="normal" font-style="normal" >100000</text>
<text x="283.30" y="93.50" font-size="10.10" text-anchor="middle" font-weight="normal" font-style="normal" transform="rotate(-90 283.30 93.50)" textLength="116.50" lengthAdjust="spacingAndGlyphs" >Gene expression (relative to PPIA)</text>
<line x1="332.20" y1="143.20" x2="332.20" y2="146.60" stroke="#000" stroke-width="1.10"/>
<text x="335.10" y="150.20" font-size="8.30" text-anchor="end" font-weight="normal" font-style="normal" transform="rotate(-90 335.10 150.20)" >HD</text>
<line x1="345.30" y1="143.20" x2="345.30" y2="146.60" stroke="#000" stroke-width="1.10"/>
<text x="348.20" y="150.20" font-size="8.30" text-anchor="end" font-weight="normal" font-style="normal" transform="rotate(-90 348.20 150.20)" >CMML</text>
<line x1="358.40" y1="143.20" x2="358.40" y2="146.60" stroke="#000" stroke-width="1.10"/>
<text x="361.30" y="150.20" font-size="8.30" text-anchor="end" font-weight="normal" font-style="normal" transform="rotate(-90 361.30 150.20)" >HD</text>
<line x1="371.50" y1="143.20" x2="371.50" y2="146.60" stroke="#000" stroke-width="1.10"/>
<text x="374.40" y="150.20" font-size="8.30" text-anchor="end" font-weight="normal" font-style="normal" transform="rotate(-90 374.40 150.20)" >CMML</text>
<line x1="384.60" y1="143.20" x2="384.60" y2="146.60" stroke="#000" stroke-width="1.10"/>
<text x="387.50" y="150.20" font-size="8.30" text-anchor="end" font-weight="normal" font-style="normal" transform="rotate(-90 387.50 150.20)" >HD</text>
<line x1="397.70" y1="143.20" x2="397.70" y2="146.60" stroke="#000" stroke-width="1.10"/>
<text x="400.60" y="150.20" font-size="8.30" text-anchor="end" font-weight="normal" font-style="normal" transform="rotate(-90 400.60 150.20)" >CMML</text>
<line x1="410.80" y1="143.20" x2="410.80" y2="146.60" stroke="#000" stroke-width="1.10"/>
<text x="413.70" y="150.20" font-size="8.30" text-anchor="end" font-weight="normal" font-style="normal" transform="rotate(-90 413.70 150.20)" >HD</text>
<line x1="423.90" y1="143.20" x2="423.90" y2="146.60" stroke="#000" stroke-width="1.10"/>
<text x="426.80" y="150.20" font-size="8.30" text-anchor="end" font-weight="normal" font-style="normal" transform="rotate(-90 426.80 150.20)" >CMML</text>
<line x1="437.00" y1="143.20" x2="437.00" y2="146.60" stroke="#000" stroke-width="1.10"/>
<text x="439.90" y="150.20" font-size="8.30" text-anchor="end" font-weight="normal" font-style="normal" transform="rotate(-90 439.90 150.20)" >HD</text>
<line x1="450.10" y1="143.20" x2="450.10" y2="146.60" stroke="#000" stroke-width="1.10"/>
<text x="453.00" y="150.20" font-size="8.30" text-anchor="end" font-weight="normal" font-style="normal" transform="rotate(-90 453.00 150.20)" >CMML</text>
<line x1="463.20" y1="143.20" x2="463.20" y2="146.60" stroke="#000" stroke-width="1.10"/>
<text x="466.10" y="150.20" font-size="8.30" text-anchor="end" font-weight="normal" font-style="normal" transform="rotate(-90 466.10 150.20)" >HD</text>
<line x1="476.30" y1="143.20" x2="476.30" y2="146.60" stroke="#000" stroke-width="1.10"/>
<text x="479.20" y="150.20" font-size="8.30" text-anchor="end" font-weight="normal" font-style="normal" transform="rotate(-90 479.20 150.20)" >CMML</text>
<line x1="489.40" y1="143.20" x2="489.40" y2="146.60" stroke="#000" stroke-width="1.10"/>
<text x="492.30" y="150.20" font-size="8.30" text-anchor="end" font-weight="normal" font-style="normal" transform="rotate(-90 492.30 150.20)" >HD</text>
<line x1="502.50" y1="143.20" x2="502.50" y2="146.60" stroke="#000" stroke-width="1.10"/>
<text x="505.40" y="150.20" font-size="8.30" text-anchor="end" font-weight="normal" font-style="normal" transform="rotate(-90 505.40 150.20)" >CMML</text>
<line x1="327.30" y1="34.30" x2="346.90" y2="34.30" stroke="#000" stroke-width="1.15"/>
<text x="337.10" y="30.90" font-size="8.10" text-anchor="middle" font-weight="normal" font-style="italic" >BCL2</text>
<line x1="354.20" y1="34.30" x2="373.80" y2="34.30" stroke="#000" stroke-width="1.15"/>
<text x="364.00" y="30.90" font-size="8.10" text-anchor="middle" font-weight="normal" font-style="italic" >MCL1</text>
<line x1="382.50" y1="34.30" x2="402.40" y2="34.30" stroke="#000" stroke-width="1.15"/>
<text x="392.45" y="30.90" font-size="8.10" text-anchor="middle" font-weight="normal" font-style="italic" >BCLXL</text>
<line x1="409.90" y1="34.30" x2="428.70" y2="34.30" stroke="#000" stroke-width="1.15"/>
<text x="419.30" y="30.90" font-size="8.10" text-anchor="middle" font-weight="normal" font-style="italic" >BFL1</text>
<line x1="436.00" y1="34.30" x2="455.50" y2="34.30" stroke="#000" stroke-width="1.15"/>
<text x="445.75" y="30.90" font-size="8.10" text-anchor="middle" font-weight="normal" font-style="italic" >NOXA</text>
<line x1="462.10" y1="34.30" x2="481.10" y2="34.30" stroke="#000" stroke-width="1.15"/>
<text x="471.60" y="30.90" font-size="8.10" text-anchor="middle" font-weight="normal" font-style="italic" >BIM</text>
<line x1="486.80" y1="34.30" x2="506.00" y2="34.30" stroke="#000" stroke-width="1.15"/>
<text x="496.40" y="30.90" font-size="8.10" text-anchor="middle" font-weight="normal" font-style="italic" >BID</text>
<g fill="#aa0026"><circle cx="329.5" cy="106.5" r="2.30"/><circle cx="334.0" cy="109.0" r="2.30"/><circle cx="337.0" cy="108.5" r="2.30"/><circle cx="330.0" cy="110.5" r="2.30"/><circle cx="331.6" cy="113.0" r="2.30"/><circle cx="334.0" cy="115.0" r="2.30"/><circle cx="329.6" cy="116.5" r="2.30"/><circle cx="332.2" cy="118.5" r="2.30"/><circle cx="329.2" cy="121.0" r="2.30"/><circle cx="333.2" cy="121.5" r="2.30"/><circle cx="330.6" cy="124.0" r="2.30"/><circle cx="333.2" cy="126.0" r="2.30"/><circle cx="329.2" cy="127.0" r="2.30"/><circle cx="331.6" cy="129.0" r="2.30"/><circle cx="329.6" cy="131.5" r="2.30"/><circle cx="333.0" cy="132.0" r="2.30"/><circle cx="330.6" cy="134.5" r="2.30"/><circle cx="332.6" cy="137.0" r="2.30"/><circle cx="329.2" cy="136.0" r="2.30"/><circle cx="331.5" cy="119.8" r="2.30"/><circle cx="331.2" cy="125.5" r="2.30"/></g>
<g fill="#1b3b82"><circle cx="345.2" cy="96.2" r="2.30"/><circle cx="345.5" cy="105.1" r="2.30"/><circle cx="343.5" cy="108.0" r="2.30"/><circle cx="346.8" cy="107.0" r="2.30"/><circle cx="344.5" cy="116.9" r="2.30"/><circle cx="343.5" cy="121.1" r="2.30"/><circle cx="346.0" cy="122.9" r="2.30"/><circle cx="349.0" cy="123.4" r="2.30"/><circle cx="346.5" cy="124.9" r="2.30"/><circle cx="343.8" cy="125.2" r="2.30"/><circle cx="345.5" cy="138.6" r="2.30"/></g>
<g fill="#aa0026"><circle cx="355.9" cy="57.8" r="2.30"/><circle cx="358.4" cy="57.9" r="2.30"/><circle cx="360.9" cy="57.5" r="2.30"/><circle cx="356.9" cy="60.0" r="2.30"/><circle cx="359.4" cy="59.5" r="2.30"/><circle cx="356.7" cy="61.6" r="2.30"/><circle cx="358.8" cy="61.6" r="2.30"/><circle cx="360.9" cy="61.3" r="2.30"/><circle cx="357.5" cy="63.8" r="2.30"/><circle cx="359.6" cy="63.7" r="2.30"/><circle cx="356.5" cy="65.1" r="2.30"/><circle cx="358.8" cy="65.5" r="2.30"/><circle cx="360.5" cy="65.0" r="2.30"/><circle cx="357.8" cy="67.3" r="2.30"/><circle cx="359.8" cy="67.6" r="2.30"/><circle cx="356.6" cy="69.5" r="2.30"/><circle cx="358.4" cy="69.4" r="2.30"/><circle cx="360.6" cy="69.5" r="2.30"/><circle cx="357.8" cy="70.8" r="2.30"/><circle cx="359.2" cy="70.9" r="2.30"/><circle cx="356.9" cy="72.9" r="2.30"/><circle cx="358.6" cy="72.8" r="2.30"/><circle cx="360.6" cy="72.9" r="2.30"/><circle cx="357.3" cy="75.0" r="2.30"/><circle cx="359.6" cy="75.2" r="2.30"/><circle cx="361.2" cy="56.4" r="2.30"/><circle cx="356.2" cy="57.4" r="2.30"/><circle cx="358.3" cy="77.2" r="2.30"/></g>
<g fill="#1b3b82"><circle cx="371.0" cy="55.0" r="2.30"/><circle cx="373.6" cy="54.6" r="2.30"/><circle cx="369.3" cy="57.0" r="2.30"/><circle cx="372.8" cy="58.0" r="2.30"/><circle cx="368.8" cy="60.5" r="2.30"/><circle cx="374.2" cy="61.0" r="2.30"/><circle cx="371.2" cy="61.8" r="2.30"/><circle cx="369.0" cy="64.8" r="2.30"/><circle cx="373.2" cy="65.5" r="2.30"/><circle cx="370.8" cy="67.5" r="2.30"/><circle cx="373.6" cy="69.8" r="2.30"/><circle cx="369.8" cy="70.6" r="2.30"/><circle cx="369.8" cy="74.6" r="2.30"/><circle cx="372.4" cy="74.8" r="2.30"/><circle cx="369.5" cy="81.2" r="2.30"/></g>
<g fill="#aa0026"><circle cx="382.4" cy="73.7" r="2.30"/><circle cx="387.0" cy="75.7" r="2.30"/><circle cx="380.5" cy="95.0" r="2.30"/><circle cx="383.4" cy="95.0" r="2.30"/><circle cx="386.4" cy="95.0" r="2.30"/><circle cx="389.3" cy="95.0" r="2.30"/><circle cx="381.4" cy="97.4" r="2.30"/><circle cx="383.7" cy="97.4" r="2.30"/><circle cx="386.1" cy="97.4" r="2.30"/><circle cx="388.4" cy="97.4" r="2.30"/><circle cx="382.4" cy="99.8" r="2.30"/><circle cx="384.9" cy="99.8" r="2.30"/><circle cx="387.4" cy="99.8" r="2.30"/><circle cx="383.4" cy="102.2" r="2.30"/><circle cx="386.4" cy="102.2" r="2.30"/><circle cx="384.9" cy="104.6" r="2.30"/></g>
<g fill="#1b3b82"><circle cx="396.0" cy="79.8" r="2.30"/><circle cx="398.8" cy="79.0" r="2.30"/><circle cx="401.0" cy="78.0" r="2.30"/><circle cx="397.4" cy="87.3" r="2.30"/><circle cx="395.0" cy="89.5" r="2.30"/><circle cx="399.5" cy="89.5" r="2.30"/><circle cx="397.0" cy="91.5" r="2.30"/><circle cx="395.0" cy="93.5" r="2.30"/><circle cx="399.5" cy="93.5" r="2.30"/><circle cx="397.2" cy="95.5" r="2.30"/><circle cx="395.3" cy="97.5" r="2.30"/><circle cx="399.3" cy="97.5" r="2.30"/><circle cx="397.4" cy="99.5" r="2.30"/><circle cx="397.6" cy="101.4" r="2.30"/></g>
<g fill="#aa0026"><circle cx="411.0" cy="95.3" r="2.30"/><circle cx="406.8" cy="102.5" r="2.30"/><circle cx="413.5" cy="101.2" r="2.30"/><circle cx="409.5" cy="104.0" r="2.30"/><circle cx="407.0" cy="107.0" r="2.30"/><circle cx="412.0" cy="107.5" r="2.30"/><circle cx="408.0" cy="110.5" r="2.30"/><circle cx="411.5" cy="111.5" r="2.30"/><circle cx="407.0" cy="113.5" r="2.30"/><circle cx="410.0" cy="114.0" r="2.30"/><circle cx="413.0" cy="114.5" r="2.30"/><circle cx="408.0" cy="117.0" r="2.30"/><circle cx="411.5" cy="117.5" r="2.30"/><circle cx="407.5" cy="120.0" r="2.30"/><circle cx="411.0" cy="120.5" r="2.30"/><circle cx="413.0" cy="119.0" r="2.30"/><circle cx="409.0" cy="122.5" r="2.30"/><circle cx="411.5" cy="123.5" r="2.30"/><circle cx="410.0" cy="124.8" r="2.30"/></g>
<g fill="#1b3b82"><circle cx="424.2" cy="95.3" r="2.30"/><circle cx="421.5" cy="105.1" r="2.30"/><circle cx="426.0" cy="106.2" r="2.30"/><circle cx="423.5" cy="107.5" r="2.30"/><circle cx="427.0" cy="110.0" r="2.30"/><circle cx="421.5" cy="110.5" r="2.30"/><circle cx="424.5" cy="113.0" r="2.30"/><circle cx="421.5" cy="116.2" r="2.30"/><circle cx="421.8" cy="122.8" r="2.30"/><circle cx="425.5" cy="124.1" r="2.30"/><circle cx="423.0" cy="126.0" r="2.30"/><circle cx="421.5" cy="128.0" r="2.30"/><circle cx="425.0" cy="128.5" r="2.30"/><circle cx="423.5" cy="130.5" r="2.30"/><circle cx="426.5" cy="132.4" r="2.30"/><circle cx="421.5" cy="134.6" r="2.30"/></g>
<g fill="#aa0026"><circle cx="435.2" cy="91.2" r="2.30"/><circle cx="437.3" cy="91.4" r="2.30"/><circle cx="439.1" cy="91.3" r="2.30"/><circle cx="435.6" cy="92.8" r="2.30"/><circle cx="438.4" cy="92.9" r="2.30"/><circle cx="435.5" cy="94.3" r="2.30"/><circle cx="437.0" cy="94.4" r="2.30"/><circle cx="438.9" cy="94.7" r="2.30"/><circle cx="435.6" cy="96.2" r="2.30"/><circle cx="437.7" cy="96.7" r="2.30"/><circle cx="435.4" cy="97.9" r="2.30"/><circle cx="437.3" cy="97.9" r="2.30"/><circle cx="439.0" cy="97.9" r="2.30"/><circle cx="435.6" cy="100.3" r="2.30"/><circle cx="437.7" cy="99.8" r="2.30"/><circle cx="435.6" cy="102.1" r="2.30"/><circle cx="436.8" cy="102.2" r="2.30"/><circle cx="438.9" cy="101.9" r="2.30"/><circle cx="435.8" cy="104.0" r="2.30"/><circle cx="438.1" cy="104.0" r="2.30"/><circle cx="435.5" cy="105.2" r="2.30"/><circle cx="436.9" cy="105.1" r="2.30"/><circle cx="438.5" cy="105.1" r="2.30"/><circle cx="435.9" cy="107.3" r="2.30"/><circle cx="437.5" cy="107.3" r="2.30"/><circle cx="435.5" cy="89.2" r="2.30"/><circle cx="438.5" cy="89.6" r="2.30"/></g>
<g fill="#1b3b82"><circle cx="448.2" cy="86.0" r="2.30"/><circle cx="454.7" cy="89.6" r="2.30"/><circle cx="451.0" cy="90.6" r="2.30"/><circle cx="448.2" cy="96.7" r="2.30"/><circle cx="452.5" cy="100.0" r="2.30"/><circle cx="448.2" cy="108.9" r="2.30"/><circle cx="452.5" cy="107.0" r="2.30"/></g>
<g fill="#aa0026"><circle cx="461.8" cy="77.2" r="2.30"/><circle cx="464.4" cy="77.2" r="2.30"/><circle cx="466.4" cy="77.4" r="2.30"/><circle cx="462.7" cy="79.3" r="2.30"/><circle cx="464.8" cy="79.2" r="2.30"/><circle cx="461.9" cy="80.8" r="2.30"/><circle cx="464.1" cy="81.4" r="2.30"/><circle cx="465.7" cy="80.9" r="2.30"/><circle cx="463.5" cy="83.3" r="2.30"/><circle cx="465.1" cy="82.8" r="2.30"/><circle cx="463.1" cy="84.3" r="2.30"/><circle cx="464.6" cy="84.5" r="2.30"/><circle cx="465.4" cy="84.4" r="2.30"/><circle cx="461.8" cy="75.4" r="2.30"/><circle cx="466.8" cy="76.2" r="2.30"/><circle cx="464.2" cy="86.0" r="2.30"/></g>
<g fill="#1b3b82"><circle cx="474.0" cy="75.2" r="2.30"/><circle cx="479.2" cy="74.7" r="2.30"/><circle cx="476.5" cy="78.2" r="2.30"/><circle cx="476.4" cy="80.6" r="2.30"/><circle cx="478.4" cy="85.4" r="2.30"/><circle cx="474.5" cy="87.6" r="2.30"/></g>
<g fill="#aa0026"><circle cx="490.0" cy="69.7" r="2.30"/><circle cx="489.8" cy="79.0" r="2.30"/><circle cx="488.6" cy="84.7" r="2.30"/><circle cx="490.0" cy="85.1" r="2.30"/><circle cx="491.7" cy="84.8" r="2.30"/><circle cx="490.0" cy="86.3" r="2.30"/><circle cx="491.3" cy="86.7" r="2.30"/><circle cx="488.5" cy="88.3" r="2.30"/><circle cx="490.6" cy="88.4" r="2.30"/><circle cx="492.1" cy="88.1" r="2.30"/><circle cx="490.4" cy="90.8" r="2.30"/></g>
<g fill="#1b3b82"><circle cx="500.8" cy="78.8" r="2.30"/><circle cx="504.6" cy="78.3" r="2.30"/><circle cx="501.2" cy="81.5" r="2.30"/><circle cx="504.2" cy="82.0" r="2.30"/><circle cx="502.5" cy="85.0" r="2.30"/><circle cx="500.8" cy="86.5" r="2.30"/><circle cx="504.6" cy="87.0" r="2.30"/><circle cx="501.8" cy="89.0" r="2.30"/><circle cx="504.0" cy="89.8" r="2.30"/><circle cx="502.5" cy="90.8" r="2.30"/></g>
<g stroke="#000" stroke-width="1.40" fill="none"><line x1="327.7" y1="117.4" x2="336.7" y2="117.4"/><line x1="332.2" y1="115.6" x2="332.2" y2="119.2" stroke-width="1.1"/><line x1="329.4" y1="115.6" x2="334.9" y2="115.6" stroke-width="1.1"/><line x1="329.4" y1="119.2" x2="334.9" y2="119.2" stroke-width="1.1"/></g>
<g stroke="#000" stroke-width="1.40" fill="none"><line x1="340.8" y1="110.5" x2="349.8" y2="110.5"/><line x1="345.3" y1="105.0" x2="345.3" y2="116.0" stroke-width="1.1"/><line x1="342.6" y1="105.0" x2="348.1" y2="105.0" stroke-width="1.1"/><line x1="342.6" y1="116.0" x2="348.1" y2="116.0" stroke-width="1.1"/></g>
<g stroke="#000" stroke-width="1.40" fill="none"><line x1="353.9" y1="64.8" x2="362.9" y2="64.8"/><line x1="358.4" y1="63.8" x2="358.4" y2="65.8" stroke-width="1.1"/><line x1="355.6" y1="63.8" x2="361.1" y2="63.8" stroke-width="1.1"/><line x1="355.6" y1="65.8" x2="361.1" y2="65.8" stroke-width="1.1"/></g>
<g stroke="#000" stroke-width="1.40" fill="none"><line x1="367.0" y1="63.5" x2="376.0" y2="63.5"/><line x1="371.5" y1="61.7" x2="371.5" y2="65.3" stroke-width="1.1"/><line x1="368.8" y1="61.7" x2="374.2" y2="61.7" stroke-width="1.1"/><line x1="368.8" y1="65.3" x2="374.2" y2="65.3" stroke-width="1.1"/></g>
<g stroke="#000" stroke-width="1.40" fill="none"><line x1="380.1" y1="90.4" x2="389.1" y2="90.4"/><line x1="384.6" y1="86.7" x2="384.6" y2="94.1" stroke-width="1.1"/><line x1="381.8" y1="86.7" x2="387.3" y2="86.7" stroke-width="1.1"/><line x1="381.8" y1="94.1" x2="387.3" y2="94.1" stroke-width="1.1"/></g>
<g stroke="#000" stroke-width="1.40" fill="none"><line x1="393.2" y1="88.6" x2="402.2" y2="88.6"/><line x1="397.7" y1="87.4" x2="397.7" y2="89.8" stroke-width="1.1"/><line x1="394.9" y1="87.4" x2="400.4" y2="87.4" stroke-width="1.1"/><line x1="394.9" y1="89.8" x2="400.4" y2="89.8" stroke-width="1.1"/></g>
<g stroke="#000" stroke-width="1.40" fill="none"><line x1="406.3" y1="108.3" x2="415.3" y2="108.3"/><line x1="410.8" y1="106.1" x2="410.8" y2="110.5" stroke-width="1.1"/><line x1="408.0" y1="106.1" x2="413.5" y2="106.1" stroke-width="1.1"/><line x1="408.0" y1="110.5" x2="413.5" y2="110.5" stroke-width="1.1"/></g>
<g stroke="#000" stroke-width="1.40" fill="none"><line x1="419.4" y1="110.2" x2="428.4" y2="110.2"/><line x1="423.9" y1="107.4" x2="423.9" y2="113.0" stroke-width="1.1"/><line x1="421.1" y1="107.4" x2="426.6" y2="107.4" stroke-width="1.1"/><line x1="421.1" y1="113.0" x2="426.6" y2="113.0" stroke-width="1.1"/></g>
<g stroke="#000" stroke-width="1.40" fill="none"><line x1="432.5" y1="97.5" x2="441.5" y2="97.5"/><line x1="437.0" y1="96.3" x2="437.0" y2="98.7" stroke-width="1.1"/><line x1="434.2" y1="96.3" x2="439.8" y2="96.3" stroke-width="1.1"/><line x1="434.2" y1="98.7" x2="439.8" y2="98.7" stroke-width="1.1"/></g>
<g stroke="#000" stroke-width="1.40" fill="none"><line x1="445.6" y1="92.6" x2="454.6" y2="92.6"/><line x1="450.1" y1="90.1" x2="450.1" y2="95.1" stroke-width="1.1"/><line x1="447.3" y1="90.1" x2="452.8" y2="90.1" stroke-width="1.1"/><line x1="447.3" y1="95.1" x2="452.8" y2="95.1" stroke-width="1.1"/></g>
<g stroke="#000" stroke-width="1.40" fill="none"><line x1="458.7" y1="80.8" x2="467.7" y2="80.8"/><line x1="463.2" y1="79.6" x2="463.2" y2="82.0" stroke-width="1.1"/><line x1="460.4" y1="79.6" x2="465.9" y2="79.6" stroke-width="1.1"/><line x1="460.4" y1="82.0" x2="465.9" y2="82.0" stroke-width="1.1"/></g>
<g stroke="#000" stroke-width="1.40" fill="none"><line x1="471.8" y1="77.9" x2="480.8" y2="77.9"/><line x1="476.3" y1="76.4" x2="476.3" y2="79.4" stroke-width="1.1"/><line x1="473.5" y1="76.4" x2="479.0" y2="76.4" stroke-width="1.1"/><line x1="473.5" y1="79.4" x2="479.0" y2="79.4" stroke-width="1.1"/></g>
<g stroke="#000" stroke-width="1.40" fill="none"><line x1="484.9" y1="81.4" x2="493.9" y2="81.4"/><line x1="489.4" y1="78.1" x2="489.4" y2="84.7" stroke-width="1.1"/><line x1="486.6" y1="78.1" x2="492.1" y2="78.1" stroke-width="1.1"/><line x1="486.6" y1="84.7" x2="492.1" y2="84.7" stroke-width="1.1"/></g>
<g stroke="#000" stroke-width="1.40" fill="none"><line x1="498.0" y1="82.7" x2="507.0" y2="82.7"/><line x1="502.5" y1="80.9" x2="502.5" y2="84.5" stroke-width="1.1"/><line x1="499.8" y1="80.9" x2="505.2" y2="80.9" stroke-width="1.1"/><line x1="499.8" y1="84.5" x2="505.2" y2="84.5" stroke-width="1.1"/></g>
<text x="7.20" y="228.20" font-size="11.50" text-anchor="start" font-weight="bold" font-style="normal" style="fill:#000;stroke:#000;stroke-width:0.55">C</text>
<rect x="52.1" y="284.0" width="19.8" height="47.3" fill="#e4c4b8"/>
<rect x="81.7" y="283.8" width="19.4" height="47.5" fill="#c4c7da"/>
<rect x="110.9" y="277.8" width="19.1" height="53.5" fill="#e4c4b8"/>
<rect x="140.3" y="284.7" width="19.2" height="46.6" fill="#c4c7da"/>
<rect x="169.5" y="281.0" width="19.1" height="50.3" fill="#e4c4b8"/>
<rect x="198.1" y="287.5" width="19.6" height="43.8" fill="#c4c7da"/>
<line x1="42.20" y1="236.00" x2="42.20" y2="331.90" stroke="#000" stroke-width="1.30"/>
<line x1="41.60" y1="331.30" x2="227.50" y2="331.30" stroke="#000" stroke-width="1.30"/>
<line x1="38.80" y1="331.30" x2="42.20" y2="331.30" stroke="#000" stroke-width="1.10"/>
<text x="36.40" y="334.40" font-size="8.60" text-anchor="end" font-weight="normal" font-style="normal" >0</text>
<line x1="38.80" y1="300.53" x2="42.20" y2="300.53" stroke="#000" stroke-width="1.10"/>
<text x="36.40" y="303.63" font-size="8.60" text-anchor="end" font-weight="normal" font-style="normal" >50</text>
<line x1="38.80" y1="269.77" x2="42.20" y2="269.77" stroke="#000" stroke-width="1.10"/>
<text x="36.40" y="272.87" font-size="8.60" text-anchor="end" font-weight="normal" font-style="normal" >100</text>
<line x1="38.80" y1="239.00" x2="42.20" y2="239.00" stroke="#000" stroke-width="1.10"/>
<text x="36.40" y="242.10" font-size="8.60" text-anchor="end" font-weight="normal" font-style="normal" >150</text>
<text x="17.20" y="283.60" font-size="10.20" text-anchor="middle" font-weight="normal" font-style="normal" transform="rotate(-90 17.20 283.60)" textLength="49.50" lengthAdjust="spacingAndGlyphs" >Alive cells (%)</text>
<line x1="58.00" y1="251.60" x2="93.80" y2="251.60" stroke="#000" stroke-width="1.20"/>
<text x="75.90" y="248.40" font-size="7.60" text-anchor="middle" font-weight="normal" font-style="normal" >ns</text>
<line x1="118.50" y1="251.60" x2="153.90" y2="251.60" stroke="#000" stroke-width="1.20"/>
<text x="136.20" y="248.40" font-size="7.60" text-anchor="middle" font-weight="normal" font-style="normal" >ns</text>
<line x1="177.70" y1="251.60" x2="213.00" y2="251.60" stroke="#000" stroke-width="1.20"/>
<polygon points="193.70,245.30 194.14,246.39 195.32,246.47 194.41,247.23 194.70,248.38 193.70,247.75 192.70,248.38 192.99,247.23 192.08,246.47 193.26,246.39" fill="#222"/>
<polygon points="197.00,245.30 197.44,246.39 198.62,246.47 197.71,247.23 198.00,248.38 197.00,247.75 196.00,248.38 196.29,247.23 195.38,246.47 196.56,246.39" fill="#222"/>
<text x="62.00" y="342.00" font-size="9.20" text-anchor="middle" font-weight="normal" font-style="normal" >HD</text>
<text x="91.40" y="342.00" font-size="9.20" text-anchor="middle" font-weight="normal" font-style="normal" >CMML</text>
<text x="120.45" y="342.00" font-size="9.20" text-anchor="middle" font-weight="normal" font-style="normal" >HD</text>
<text x="149.90" y="342.00" font-size="9.20" text-anchor="middle" font-weight="normal" font-style="normal" >CMML</text>
<text x="179.05" y="342.00" font-size="9.20" text-anchor="middle" font-weight="normal" font-style="normal" >HD</text>
<text x="207.90" y="342.00" font-size="9.20" text-anchor="middle" font-weight="normal" font-style="normal" >CMML</text>
<line x1="51.50" y1="347.10" x2="101.20" y2="347.10" stroke="#000" stroke-width="1.20"/>
<text x="76.60" y="357.60" font-size="8.60" text-anchor="middle" font-weight="normal" font-style="normal" >Venetoclax</text>
<line x1="112.10" y1="347.10" x2="158.00" y2="347.10" stroke="#000" stroke-width="1.20"/>
<text x="135.20" y="357.60" font-size="8.60" text-anchor="middle" font-weight="normal" font-style="normal" >Navitoclax</text>
<line x1="170.60" y1="347.10" x2="216.40" y2="347.10" stroke="#000" stroke-width="1.20"/>
<text x="193.60" y="357.60" font-size="8.60" text-anchor="middle" font-weight="normal" font-style="normal" >S63845</text>
<g fill="#aa0026"><circle cx="61.9" cy="269.8" r="2.30"/><circle cx="54.5" cy="274.7" r="2.30"/><circle cx="59.1" cy="279.2" r="2.30"/><circle cx="64.3" cy="279.2" r="2.30"/><circle cx="71.7" cy="279.2" r="2.30"/><circle cx="54.5" cy="282.4" r="2.30"/><circle cx="69.6" cy="281.9" r="2.30"/><circle cx="59.8" cy="286.5" r="2.30"/><circle cx="64.3" cy="286.5" r="2.30"/><circle cx="59.1" cy="290.1" r="2.30"/><circle cx="64.8" cy="292.2" r="2.30"/><circle cx="61.9" cy="299.9" r="2.30"/></g>
<g fill="#1b3b82"><circle cx="85.0" cy="269.6" r="2.30"/><circle cx="88.1" cy="269.6" r="2.30"/><circle cx="91.3" cy="269.6" r="2.30"/><circle cx="94.5" cy="269.6" r="2.30"/><circle cx="97.6" cy="269.6" r="2.30"/><circle cx="85.0" cy="273.2" r="2.30"/><circle cx="88.1" cy="274.5" r="2.30"/><circle cx="91.3" cy="275.9" r="2.30"/><circle cx="94.5" cy="274.5" r="2.30"/><circle cx="97.6" cy="273.2" r="2.30"/><circle cx="84.7" cy="279.0" r="2.30"/><circle cx="88.0" cy="280.4" r="2.30"/><circle cx="91.3" cy="281.8" r="2.30"/><circle cx="94.6" cy="280.4" r="2.30"/><circle cx="97.9" cy="279.0" r="2.30"/><circle cx="88.0" cy="289.4" r="2.30"/><circle cx="94.0" cy="288.3" r="2.30"/><circle cx="85.0" cy="293.0" r="2.30"/><circle cx="88.5" cy="294.0" r="2.30"/><circle cx="92.0" cy="294.0" r="2.30"/><circle cx="96.0" cy="293.0" r="2.30"/><circle cx="84.3" cy="300.0" r="2.30"/><circle cx="87.8" cy="302.5" r="2.30"/><circle cx="91.3" cy="305.0" r="2.30"/><circle cx="94.8" cy="302.5" r="2.30"/><circle cx="98.3" cy="300.0" r="2.30"/><circle cx="88.0" cy="309.9" r="2.30"/><circle cx="94.0" cy="309.5" r="2.30"/></g>
<g fill="#aa0026"><circle cx="112.3" cy="270.2" r="2.30"/><circle cx="115.6" cy="270.2" r="2.30"/><circle cx="118.9" cy="270.2" r="2.30"/><circle cx="122.2" cy="270.2" r="2.30"/><circle cx="125.5" cy="270.2" r="2.30"/><circle cx="128.8" cy="270.2" r="2.30"/><circle cx="119.7" cy="274.7" r="2.30"/><circle cx="120.6" cy="281.7" r="2.30"/><circle cx="120.6" cy="289.7" r="2.30"/><circle cx="120.6" cy="296.3" r="2.30"/><circle cx="117.4" cy="307.2" r="2.30"/><circle cx="123.4" cy="307.2" r="2.30"/></g>
<g fill="#1b3b82"><circle cx="141.7" cy="269.2" r="2.30"/><circle cx="144.2" cy="269.2" r="2.30"/><circle cx="146.5" cy="269.6" r="2.30"/><circle cx="152.8" cy="269.6" r="2.30"/><circle cx="155.2" cy="269.2" r="2.30"/><circle cx="157.3" cy="269.2" r="2.30"/><circle cx="148.3" cy="272.2" r="2.30"/><circle cx="152.2" cy="272.0" r="2.30"/><circle cx="150.2" cy="275.5" r="2.30"/><circle cx="143.8" cy="277.0" r="2.30"/><circle cx="155.2" cy="280.7" r="2.30"/><circle cx="142.0" cy="285.7" r="2.30"/><circle cx="147.2" cy="290.2" r="2.30"/><circle cx="152.2" cy="290.2" r="2.30"/><circle cx="157.0" cy="289.3" r="2.30"/><circle cx="144.2" cy="296.2" r="2.30"/><circle cx="149.5" cy="297.7" r="2.30"/><circle cx="155.2" cy="296.8" r="2.30"/><circle cx="146.8" cy="305.2" r="2.30"/><circle cx="152.2" cy="307.0" r="2.30"/><circle cx="155.2" cy="305.5" r="2.30"/><circle cx="146.8" cy="311.2" r="2.30"/></g>
<g fill="#aa0026"><circle cx="172.6" cy="269.4" r="2.30"/><circle cx="175.2" cy="269.4" r="2.30"/><circle cx="177.2" cy="270.2" r="2.30"/><circle cx="178.9" cy="272.8" r="2.30"/><circle cx="180.6" cy="270.2" r="2.30"/><circle cx="182.6" cy="269.4" r="2.30"/><circle cx="185.2" cy="269.4" r="2.30"/><circle cx="172.4" cy="275.2" r="2.30"/><circle cx="175.0" cy="276.4" r="2.30"/><circle cx="177.6" cy="277.7" r="2.30"/><circle cx="180.2" cy="277.7" r="2.30"/><circle cx="182.8" cy="276.4" r="2.30"/><circle cx="185.4" cy="275.2" r="2.30"/><circle cx="171.0" cy="282.1" r="2.30"/><circle cx="186.5" cy="280.9" r="2.30"/><circle cx="176.5" cy="284.6" r="2.30"/><circle cx="181.5" cy="283.7" r="2.30"/><circle cx="171.5" cy="287.4" r="2.30"/><circle cx="176.5" cy="290.0" r="2.30"/><circle cx="181.5" cy="290.5" r="2.30"/><circle cx="186.5" cy="289.8" r="2.30"/><circle cx="181.5" cy="295.5" r="2.30"/><circle cx="176.0" cy="299.0" r="2.30"/><circle cx="171.5" cy="303.0" r="2.30"/><circle cx="176.0" cy="305.0" r="2.30"/><circle cx="179.5" cy="306.5" r="2.30"/><circle cx="183.0" cy="303.5" r="2.30"/><circle cx="186.5" cy="302.8" r="2.30"/><circle cx="176.0" cy="316.5" r="2.30"/><circle cx="181.5" cy="315.0" r="2.30"/></g>
<g fill="#1b3b82"><circle cx="201.0" cy="269.6" r="2.30"/><circle cx="203.8" cy="269.6" r="2.30"/><circle cx="211.8" cy="269.6" r="2.30"/><circle cx="214.6" cy="269.6" r="2.30"/><circle cx="207.8" cy="272.4" r="2.30"/><circle cx="201.0" cy="274.6" r="2.30"/><circle cx="203.7" cy="275.5" r="2.30"/><circle cx="206.4" cy="276.4" r="2.30"/><circle cx="209.2" cy="276.4" r="2.30"/><circle cx="211.9" cy="275.5" r="2.30"/><circle cx="214.6" cy="274.6" r="2.30"/><circle cx="201.0" cy="280.0" r="2.30"/><circle cx="203.7" cy="280.9" r="2.30"/><circle cx="206.4" cy="281.8" r="2.30"/><circle cx="209.2" cy="281.8" r="2.30"/><circle cx="211.9" cy="280.9" r="2.30"/><circle cx="214.6" cy="280.0" r="2.30"/><circle cx="201.0" cy="285.5" r="2.30"/><circle cx="203.7" cy="286.7" r="2.30"/><circle cx="206.4" cy="288.0" r="2.30"/><circle cx="209.2" cy="288.0" r="2.30"/><circle cx="211.9" cy="286.7" r="2.30"/><circle cx="214.6" cy="285.5" r="2.30"/><circle cx="201.5" cy="297.7" r="2.30"/><circle cx="204.5" cy="295.8" r="2.30"/><circle cx="207.8" cy="296.6" r="2.30"/><circle cx="211.0" cy="294.8" r="2.30"/><circle cx="214.5" cy="296.3" r="2.30"/><circle cx="204.5" cy="301.0" r="2.30"/><circle cx="207.8" cy="302.1" r="2.30"/><circle cx="211.0" cy="300.5" r="2.30"/><circle cx="214.0" cy="299.0" r="2.30"/><circle cx="200.5" cy="304.1" r="2.30"/><circle cx="211.5" cy="305.1" r="2.30"/><circle cx="215.0" cy="303.6" r="2.30"/><circle cx="200.5" cy="309.7" r="2.30"/><circle cx="204.5" cy="308.3" r="2.30"/><circle cx="208.0" cy="309.0" r="2.30"/><circle cx="214.5" cy="310.7" r="2.30"/><circle cx="204.5" cy="312.6" r="2.30"/><circle cx="211.0" cy="313.4" r="2.30"/><circle cx="207.5" cy="315.4" r="2.30"/></g>
<g stroke="#000" stroke-width="1.2"><line x1="62.0" y1="281.3" x2="62.0" y2="286.3"/><line x1="57.4" y1="281.3" x2="66.6" y2="281.3"/><line x1="57.4" y1="286.3" x2="66.6" y2="286.3"/></g>
<g stroke="#000" stroke-width="1.2"><line x1="91.4" y1="282.1" x2="91.4" y2="286.2"/><line x1="86.8" y1="282.1" x2="96.0" y2="282.1"/><line x1="86.8" y1="286.2" x2="96.0" y2="286.2"/></g>
<g stroke="#000" stroke-width="1.2"><line x1="120.5" y1="274.6" x2="120.5" y2="281.2"/><line x1="115.9" y1="274.6" x2="125.0" y2="274.6"/><line x1="115.9" y1="281.2" x2="125.0" y2="281.2"/></g>
<g stroke="#000" stroke-width="1.2"><line x1="149.9" y1="281.5" x2="149.9" y2="287.5"/><line x1="145.3" y1="281.5" x2="154.5" y2="281.5"/><line x1="145.3" y1="287.5" x2="154.5" y2="287.5"/></g>
<g stroke="#000" stroke-width="1.2"><line x1="179.1" y1="278.5" x2="179.1" y2="282.6"/><line x1="174.5" y1="278.5" x2="183.7" y2="278.5"/><line x1="174.5" y1="282.6" x2="183.7" y2="282.6"/></g>
<g stroke="#000" stroke-width="1.2"><line x1="207.9" y1="285.8" x2="207.9" y2="289.2"/><line x1="203.3" y1="285.8" x2="212.5" y2="285.8"/><line x1="203.3" y1="289.2" x2="212.5" y2="289.2"/></g>
<text x="273.60" y="228.20" font-size="11.50" text-anchor="start" font-weight="bold" font-style="normal" style="fill:#000;stroke:#000;stroke-width:0.55">D</text>
<text x="355.50" y="250.20" font-size="8.30" text-anchor="end" font-weight="normal" font-style="italic" >(kDa)</text>
<text x="369.60" y="250.20" font-size="8.60" text-anchor="middle" font-weight="normal" font-style="normal" >0</text>
<text x="388.50" y="250.20" font-size="8.60" text-anchor="middle" font-weight="normal" font-style="normal" >1</text>
<text x="410.50" y="250.20" font-size="8.60" text-anchor="middle" font-weight="normal" font-style="normal" >10</text>
<text x="430.20" y="250.20" font-size="8.60" text-anchor="middle" font-weight="normal" font-style="normal" >100</text>
<text x="447.70" y="250.20" font-size="8.30" text-anchor="start" font-weight="normal" font-style="italic" >S63845 (nM)</text>
<defs><linearGradient id="sm" x1="0" y1="0" x2="0" y2="1"><stop offset="0" stop-color="#bdbdbd"/><stop offset="1" stop-color="#f2f2f2" stop-opacity="0"/></linearGradient></defs>
<rect x="358.7" y="253.8" width="85.2" height="14.6" fill="#f3f3f3" stroke="#000" stroke-width="1.4"/>
<rect x="358.7" y="277.0" width="85.0" height="22.1" fill="#d9d9d9" stroke="#000" stroke-width="1.4"/>
<rect x="358.7" y="308.5" width="85.0" height="15.4" fill="#a6a6a6" stroke="#000" stroke-width="1.4"/>
<rect x="378.2" y="277.8" width="1.6" height="20.6" fill="#e3e3e3"/>
<rect x="399.5" y="277.8" width="1.6" height="20.6" fill="#e3e3e3"/>
<rect x="419.6" y="277.8" width="1.6" height="20.6" fill="#e3e3e3"/>
<rect x="362.3" y="261.5" width="13.6" height="4.5" fill="url(#sm)"/>
<rect x="361.8" y="257.4" width="14.6" height="4.6" rx="1.6" fill="#0b0b0b"/>
<rect x="382.2" y="261.7" width="14.9" height="4.5" fill="url(#sm)"/>
<rect x="381.7" y="257.4" width="15.9" height="4.8" rx="1.6" fill="#0b0b0b"/>
<rect x="403.6" y="262.5" width="13.7" height="4.5" fill="url(#sm)"/>
<rect x="403.1" y="256.9" width="14.7" height="6.1" rx="1.6" fill="#0b0b0b"/>
<rect x="423.6" y="263.1" width="12.9" height="4.5" fill="url(#sm)"/>
<rect x="423.1" y="256.4" width="13.9" height="7.2" rx="1.6" fill="#0b0b0b"/>
<rect x="361.3" y="282.9" width="15.6" height="2.4" rx="0.9" fill="#161616"/>
<rect x="361.8" y="294.4" width="14.6" height="1.8" rx="0.7" fill="#181818" opacity="0.30"/>
<rect x="361.8" y="288.6" width="14.6" height="1.3" fill="#c4c4c4"/>
<rect x="381.2" y="282.9" width="16.9" height="2.4" rx="0.9" fill="#161616"/>
<rect x="381.7" y="294.3" width="15.9" height="1.8" rx="0.7" fill="#181818" opacity="0.95"/>
<rect x="381.7" y="288.6" width="15.9" height="1.3" fill="#c4c4c4"/>
<rect x="402.6" y="282.9" width="15.7" height="2.4" rx="0.9" fill="#161616"/>
<rect x="403.1" y="280.6" width="14.7" height="1.4" fill="#555"/>
<rect x="403.1" y="293.6" width="14.7" height="1.8" rx="0.7" fill="#181818" opacity="0.95"/>
<rect x="403.1" y="288.6" width="14.7" height="1.3" fill="#c4c4c4"/>
<rect x="422.6" y="282.9" width="14.9" height="2.4" rx="0.9" fill="#161616"/>
<rect x="423.1" y="280.6" width="13.9" height="1.4" fill="#555"/>
<rect x="423.1" y="292.8" width="13.9" height="1.8" rx="0.7" fill="#181818" opacity="1.00"/>
<rect x="423.1" y="288.6" width="13.9" height="1.3" fill="#c4c4c4"/>
<rect x="361.3" y="315.0" width="15.6" height="4.8" rx="1.6" fill="#151515"/>
<rect x="363.8" y="316.6" width="10.6" height="1.0" fill="#3a3a3a"/>
<rect x="381.2" y="315.0" width="16.9" height="4.8" rx="1.6" fill="#151515"/>
<rect x="383.7" y="316.6" width="11.9" height="1.0" fill="#3a3a3a"/>
<rect x="402.6" y="315.0" width="15.7" height="4.8" rx="1.6" fill="#151515"/>
<rect x="405.1" y="316.6" width="10.7" height="1.0" fill="#3a3a3a"/>
<rect x="422.6" y="315.0" width="14.9" height="4.8" rx="1.6" fill="#151515"/>
<rect x="425.1" y="316.6" width="9.9" height="1.0" fill="#3a3a3a"/>
<text x="355.60" y="264.00" font-size="9.10" text-anchor="end" font-weight="normal" font-style="normal" >40</text>
<text x="356.70" y="287.60" font-size="9.10" text-anchor="end" font-weight="normal" font-style="normal" >116</text>
<text x="356.70" y="298.90" font-size="9.10" text-anchor="end" font-weight="normal" font-style="normal" >89</text>
<text x="356.20" y="318.60" font-size="9.10" text-anchor="end" font-weight="normal" font-style="normal" >45</text>
<text x="447.20" y="264.20" font-size="8.60" text-anchor="start" font-weight="normal" font-style="normal" >MCL1</text>
<text x="447.20" y="290.60" font-size="8.60" text-anchor="start" font-weight="normal" font-style="normal" >PARP</text>
<text x="447.20" y="319.00" font-size="8.60" text-anchor="start" font-weight="normal" font-style="normal" >ACTIN</text>
<rect x="0.6" y="0.6" width="518.8" height="365.8" fill="none" stroke="#000" stroke-width="1.4"/>
</svg>
</body></html>
